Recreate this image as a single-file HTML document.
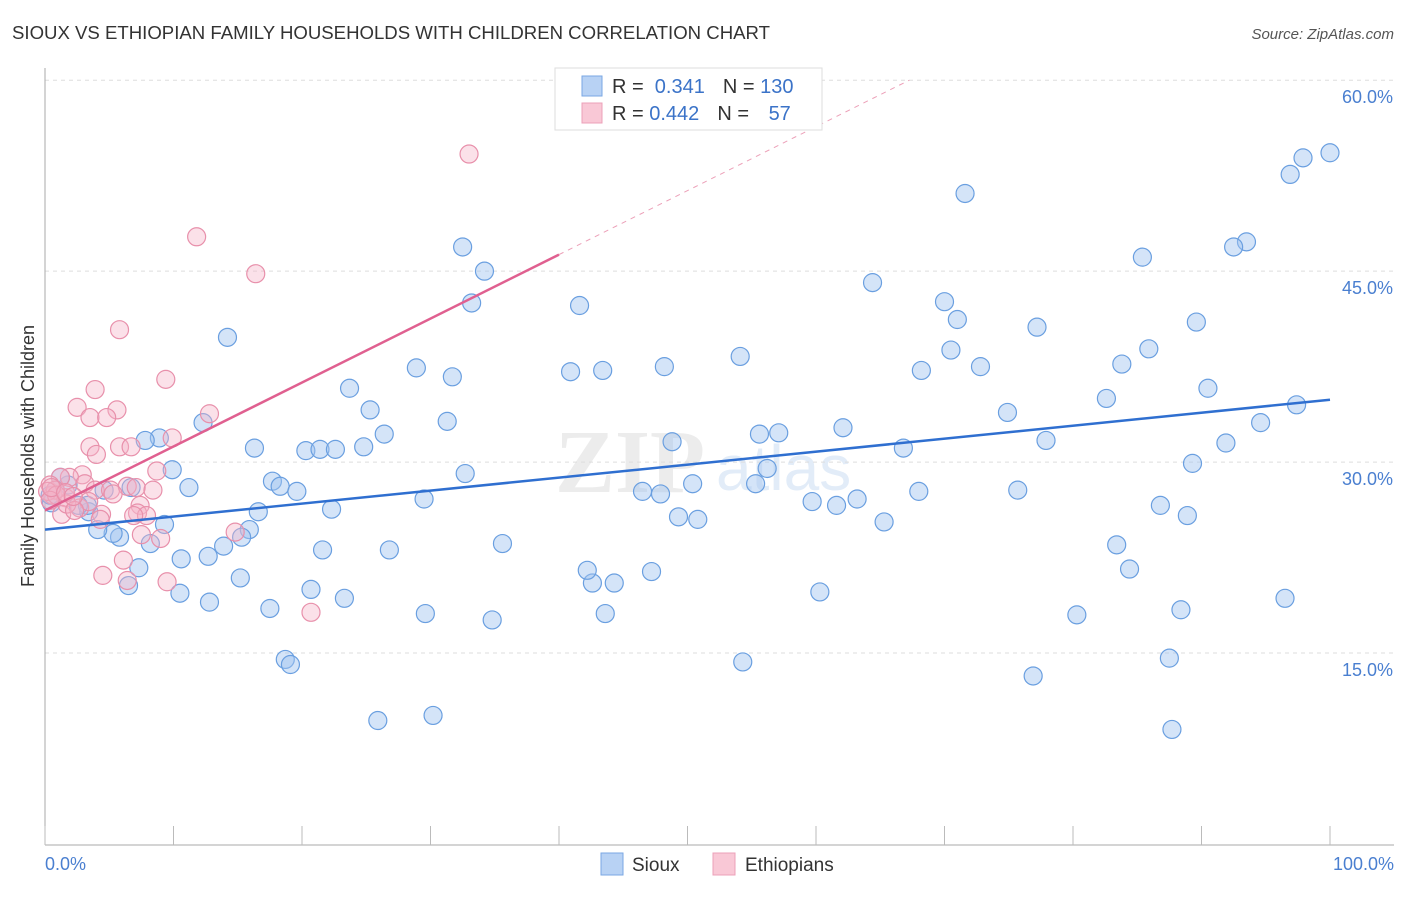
<!DOCTYPE html>
<html><head><meta charset="utf-8"><style>
body{margin:0;background:#fff;font-family:"Liberation Sans",sans-serif}
</style></head><body>
<svg width="1406" height="892" xmlns="http://www.w3.org/2000/svg">
<text x="12" y="39" font-size="18.6" fill="#333">SIOUX VS ETHIOPIAN FAMILY HOUSEHOLDS WITH CHILDREN CORRELATION CHART</text>
<text x="1394" y="39" font-size="15" fill="#555" text-anchor="end" font-style="italic">Source: ZipAtlas.com</text>
<text x="555" y="492" font-size="90" fill="#ececec" font-family="Liberation Serif" font-weight="bold">ZIP</text>
<text x="716" y="490" font-size="64" fill="#e2ecf8">atlas</text>
<g id="grid"></g>
<g id="axes"></g>
<g id="pts"></g>
<g id="trend"></g>
<text transform="translate(34,456) rotate(-90)" font-size="18" fill="#333" text-anchor="middle">Family Households with Children</text>
<text x="45" y="870" font-size="18" fill="#4a7fd0">0.0%</text>
<text x="1394" y="870" font-size="18" fill="#4a7fd0" text-anchor="end">100.0%</text>
<g>
<rect x="555" y="68" width="267" height="62" fill="#fff" stroke="#ddd"/>
<rect x="582" y="76" width="20" height="20" fill="#b8d2f4" stroke="#7aa7e3"/>
<rect x="582" y="103" width="20" height="20" fill="#f9c8d6" stroke="#eca0b8"/>
<text x="612" y="93" font-size="20" fill="#333">R = <tspan fill="#3b73c8">&#160;0.341</tspan><tspan dx="18">N = </tspan><tspan fill="#3b73c8">130</tspan></text>
<text x="612" y="120" font-size="20" fill="#333">R = <tspan fill="#3b73c8">0.442</tspan><tspan dx="18">N = </tspan><tspan fill="#3b73c8" dx="14">57</tspan></text>
</g>
<g>
<rect x="601" y="853" width="22" height="22" fill="#b8d2f4" stroke="#7aa7e3"/>
<text x="632" y="871" font-size="19" fill="#333">Sioux</text>
<rect x="713" y="853" width="22" height="22" fill="#f9c8d6" stroke="#eca0b8"/>
<text x="745" y="871" font-size="19" fill="#333">Ethiopians</text>
</g>
</svg>
<script>
const yTicks=[15,30,45,60];
const yTickLabels=["15.0%","30.0%","45.0%","60.0%"];
const xTicks=[0,10,20,30,40,50,60,70,80,90,100];
const siouxX=[100,97.9,96.9,93.5,92.5,71.6,85.4,64.4,70,71,77.2,89.6,70.5,85.9,83.8,72.8,68.2,90.5,82.6,74.9,97.4,94.6,91.9,77.9,89.3,66.8,62.1,57.1,55.6,56.2,55.3,50.4,48.8,46.5,47.9,48.2,43.4,40.9,41.6,54.1,59.7,61.6,63.2,65.3,68,75.7,86.8,88.9,83.4,84.4,96.5,88.4,80.3,60.3,47.2,44.3,42.6,42.2,43.6,49.3,50.8,76.9,87.5,87.7,54.3,32.5,34.2,33.2,28.9,31.7,23.7,25.3,31.3,26.4,32.7,29.5,22.3,35.6,26.8,21.6,20.7,23.3,29.6,34.8,25.9,30.2,18.7,19.1,17.5,15.2,12.8,10.5,14.2,12.3,8.9,7.8,9.9,11.2,16.3,20.3,21.4,22.6,24.8,17.7,18.3,19.6,16.6,15.9,15.3,13.9,12.7,10.6,9.3,8.2,7.3,6.5,5.8,5.3,4.1,4.6,6.7,3.4,3.3,2.6,1.8,1.2,0.8,0.5,0.4];
const siouxY=[54.3,53.9,52.6,47.3,46.9,51.1,46.1,44.1,42.6,41.2,40.6,41,38.8,38.9,37.7,37.5,37.2,35.8,35,33.9,34.5,33.1,31.5,31.7,29.9,31.1,32.7,32.3,32.2,29.5,28.3,28.3,31.6,27.7,27.5,37.5,37.2,37.1,42.3,38.3,26.9,26.6,27.1,25.3,27.7,27.8,26.6,25.8,23.5,21.6,19.3,18.4,18,19.8,21.4,20.5,20.5,21.5,18.1,25.7,25.5,13.2,14.6,9,14.3,46.9,45,42.5,37.4,36.7,35.8,34.1,33.2,32.2,29.1,27.1,26.3,23.6,23.1,23.1,20,19.3,18.1,17.6,9.7,10.1,14.5,14.1,18.5,20.9,19,19.7,39.8,33.1,31.9,31.7,29.4,28,31.1,30.9,31,31,31.2,28.5,28.1,27.7,26.1,24.7,24.1,23.4,22.6,22.4,25.1,23.6,21.7,20.3,24.1,24.4,24.7,27.8,28,26.1,26.6,26.6,28.2,28.8,27.8,26.8,27.4];
const ethX=[33,11.8,16.4,5.8,9.4,3.9,2.5,5.6,3.5,4.8,12.8,9.9,3.5,5.8,6.7,4,8.7,2.9,1.9,1.2,0.4,0.6,1.6,3.1,3.9,5.1,6.4,7.1,8.4,5.3,7.4,4.4,2.7,3.4,7.2,7.9,1.3,1.7,2.3,4.3,9,7.5,6.9,14.8,6.1,4.5,6.4,9.5,20.7,0.8,0.2,0.9,0.4,0.5,1.6,2.2];
const ethY=[54.2,47.7,44.8,40.4,36.5,35.7,34.3,34.1,33.5,33.5,33.8,31.9,31.2,31.2,31.2,30.6,29.3,29,28.8,28.8,28.2,27.4,27.2,28.3,27.8,27.8,28.1,28,27.8,27.5,26.6,25.9,26.4,26.9,26,25.8,25.9,26.7,26.2,25.5,24,24.3,25.8,24.5,22.3,21.1,20.7,20.6,18.2,27.8,27.7,27.4,27,28,27.6,27.3];
const siouxTrend=[24.7,34.9];
const ethTrend=[26.2,0.5025];
const NS="http://www.w3.org/2000/svg";
const X=v=>45+v*12.85, Y=v=>844-v*12.73;
function mk(tag,attrs,parent){const e=document.createElementNS(NS,tag);for(const k in attrs)e.setAttribute(k,attrs[k]);document.getElementById(parent).appendChild(e);return e;}
yTicks.forEach((t,i)=>{
 const l=mk('line',{x1:45,x2:1394,y1:Y(t),y2:Y(t),stroke:'#ddd','stroke-dasharray':'4,4'},'grid');
 
 
 const tx=mk('text',{x:1393,y:Y(t)+23,'font-size':18,fill:'#4a7fd0','text-anchor':'end'},'grid');
 tx.textContent=yTickLabels[i];
 
 
});
const ya=mk('line',{x1:45,x2:45,y1:68,y2:845,stroke:'#aaa'},'axes');


const xa=mk('line',{x1:45,x2:1394,y1:845,y2:845,stroke:'#aaa'},'axes');


xTicks.forEach(t=>{
 const l=mk('line',{x1:X(t),x2:X(t),y1:826,y2:845,stroke:'#bbb'},'axes');
 
 
});
siouxX.forEach((v,i)=>{
 const c=mk('circle',{cx:X(v),cy:Y(siouxY[i]),r:9,fill:'rgba(160,196,240,0.45)',stroke:'#6a9fe0','stroke-width':1.2},'pts');
 
 
});
ethX.forEach((v,i)=>{
 const c=mk('circle',{cx:X(v),cy:Y(ethY[i]),r:9,fill:'rgba(245,180,200,0.4)',stroke:'#e890ab','stroke-width':1.2},'pts');
 
 
});
const bl=mk('line',{x1:X(0),y1:Y(siouxTrend[0]),x2:X(100),y2:Y(siouxTrend[1]),stroke:'#2f6fd0','stroke-width':2.5},'trend');


const pe=v=>ethTrend[0]+ethTrend[1]*v;
const pl=mk('line',{x1:X(0),y1:Y(pe(0)),x2:X(40),y2:Y(pe(40)),stroke:'#e06090','stroke-width':2.5},'trend');


const xEnd=(60-ethTrend[0])/ethTrend[1];
const pd=mk('line',{x1:X(40),y1:Y(pe(40)),x2:X(xEnd),y2:Y(60),stroke:'#eca0b8','stroke-width':1,'stroke-dasharray':'5,5'},'trend');


</script>
</body></html>
